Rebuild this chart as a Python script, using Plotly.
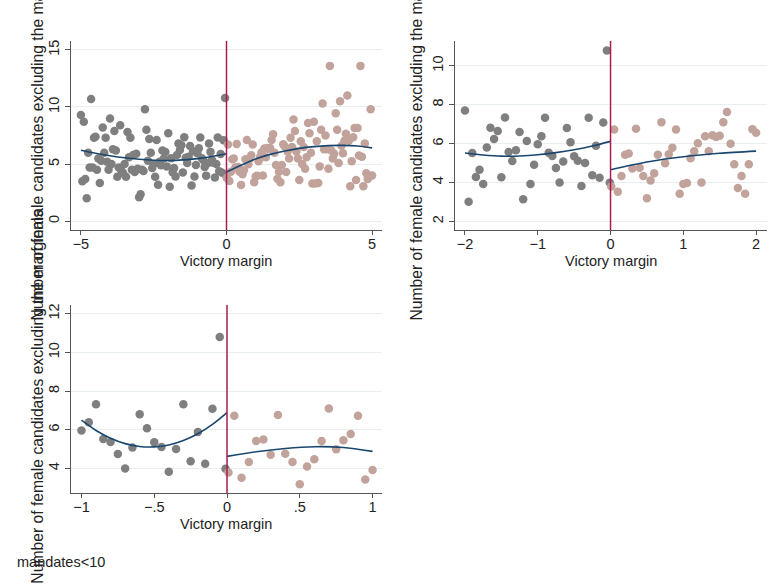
import plotly.graph_objects as go

# ---- binned observations (victory margin, mean number of female candidates) ----
margin_below = [
    -5.00, -4.95, -4.90, -4.85, -4.80, -4.75, -4.70, -4.65, -4.60, -4.55,
    -4.50, -4.45, -4.40, -4.35, -4.30, -4.25, -4.20, -4.15, -4.10, -4.05,
    -4.00, -3.95, -3.90, -3.85, -3.80, -3.75, -3.70, -3.65, -3.60, -3.55,
    -3.50, -3.45, -3.40, -3.35, -3.30, -3.25, -3.20, -3.15, -3.10, -3.05,
    -3.00, -2.95, -2.90, -2.85, -2.80, -2.75, -2.70, -2.65, -2.60, -2.55,
    -2.50, -2.45, -2.40, -2.35, -2.30, -2.25, -2.20, -2.15, -2.10, -2.05,
    -2.00, -1.95, -1.90, -1.85, -1.80, -1.75, -1.70, -1.65, -1.60, -1.55,
    -1.50, -1.45, -1.40, -1.35, -1.30, -1.25, -1.20, -1.15, -1.10, -1.05,
    -1.00, -0.95, -0.90, -0.85, -0.80, -0.75, -0.70, -0.65, -0.60, -0.55,
    -0.50, -0.45, -0.40, -0.35, -0.30, -0.25, -0.20, -0.15, -0.10, -0.05,
    -0.01,
]
women_below = [
    9.3, 3.5, 8.7, 3.7, 2.0, 6.0, 4.7, 10.7, 4.7, 7.3,
    7.4, 4.5, 5.5, 3.35, 5.3, 8.2, 6.0, 7.3, 5.2, 4.5,
    9.0, 5.0, 6.3, 7.9, 6.2, 3.9, 4.7, 8.4, 4.4, 4.2,
    5.0, 3.9, 7.8, 5.6, 7.3, 4.5, 5.8, 4.3, 5.9, 4.6,
    2.1, 2.35, 4.5, 4.4, 9.8, 8.0, 5.3, 7.2, 6.0, 4.65,
    5.0, 3.9, 7.1, 3.2, 5.2, 4.9, 6.2, 5.5, 6.05, 4.8,
    7.70, 3.01, 5.51, 4.28, 4.65, 3.92, 5.80, 6.81, 6.23, 6.64,
    4.26, 7.34, 5.56, 5.10, 5.65, 6.59, 3.13, 6.13, 3.92, 4.91,
    5.96, 6.38, 7.32, 5.52, 5.36, 4.74, 3.99, 5.08, 6.80, 6.07,
    5.35, 5.11, 3.82, 5.00, 7.32, 4.37, 5.88, 4.24, 7.08, 10.79,
    3.98,
]
margin_above = [
    0.01, 0.05, 0.10, 0.15, 0.20, 0.25, 0.30, 0.35, 0.40, 0.45,
    0.50, 0.55, 0.60, 0.65, 0.70, 0.75, 0.80, 0.85, 0.90, 0.95,
    1.00, 1.05, 1.10, 1.15, 1.20, 1.25, 1.30, 1.35, 1.40, 1.45,
    1.50, 1.55, 1.60, 1.65, 1.70, 1.75, 1.80, 1.85, 1.90, 1.95,
    2.00, 2.05, 2.10, 2.15, 2.20, 2.25, 2.30, 2.35, 2.40, 2.45,
    2.50, 2.55, 2.60, 2.65, 2.70, 2.75, 2.80, 2.85, 2.90, 2.95,
    3.00, 3.05, 3.10, 3.15, 3.20, 3.25, 3.30, 3.35, 3.40, 3.45,
    3.50, 3.55, 3.60, 3.65, 3.70, 3.75, 3.80, 3.85, 3.90, 3.95,
    4.00, 4.05, 4.10, 4.15, 4.20, 4.25, 4.30, 4.35, 4.40, 4.45,
    4.50, 4.55, 4.60, 4.65, 4.70, 4.75, 4.80, 4.85, 4.90, 4.95,
    5.00,
]
women_above = [
    3.79, 6.72, 3.52, 4.33, 5.42, 5.49, 4.71, 6.76, 4.75, 4.33,
    3.18, 4.10, 4.47, 5.42, 7.10, 4.99, 5.45, 5.78, 6.72, 3.42,
    3.92, 3.97, 5.24, 5.60, 6.01, 4.00, 6.37, 5.60, 6.42, 6.33,
    6.40, 7.10, 7.62, 5.99, 4.93, 3.71, 4.33, 3.42, 4.93, 6.74,
    6.55, 4.3, 6.1, 5.5, 7.3, 6.5, 8.9, 7.9, 6.1, 5.5,
    3.6, 7.0, 5.0, 6.5, 4.6, 5.6, 8.6, 7.7, 6.0, 3.3,
    8.7, 3.3, 7.0, 3.35, 4.8, 8.0, 10.3, 6.3, 7.5, 6.3,
    4.6, 13.6, 6.2, 5.5, 5.9, 9.45, 8.0, 5.1, 10.5, 6.6,
    5.95, 7.05, 7.65, 11.0, 7.05, 3.05, 5.25, 7.35, 8.15, 3.6,
    8.15, 5.75, 13.6, 5.65, 3.05, 6.8, 4.2, 3.7, 3.9, 9.8,
    4.0,
]

# ---- polynomial fits on each side of the threshold, per bandwidth ----
fit5_below_x = [-5.0, -4.5, -4.0, -3.5, -3.0, -2.5, -2.0, -1.5, -1.0, -0.5, 0.0]
fit5_below_y = [6.22, 5.95, 5.73, 5.55, 5.42, 5.34, 5.32, 5.37, 5.48, 5.66, 5.90]
fit5_above_x = [0.0, 0.5, 1.0, 1.5, 2.0, 2.5, 3.0, 3.5, 4.0, 4.5, 5.0]
fit5_above_y = [4.30, 4.90, 5.45, 5.85, 6.15, 6.38, 6.53, 6.62, 6.64, 6.58, 6.42]

fit2_below_x = [-2.0, -1.75, -1.5, -1.25, -1.0, -0.75, -0.5, -0.25, 0.0]
fit2_below_y = [5.51, 5.41, 5.35, 5.36, 5.42, 5.53, 5.68, 5.87, 6.11]
fit2_above_x = [0.0, 0.5, 1.0, 1.5, 2.0]
fit2_above_y = [4.65, 5.05, 5.32, 5.50, 5.61]

fit1_below_x = [-1.0, -0.9, -0.8, -0.7, -0.6, -0.5, -0.4, -0.3, -0.2, -0.1, 0.0]
fit1_below_y = [6.49, 5.96, 5.56, 5.28, 5.13, 5.11, 5.21, 5.44, 5.79, 6.27, 6.88]
fit1_above_x = [0.0, 0.2, 0.4, 0.6, 0.8, 1.0]
fit1_above_y = [4.62, 4.86, 5.03, 5.12, 5.08, 4.88]

y_title = "Number of female candidates excluding the marginals"
x_title = "Victory margin"
note_text = "mandates<10"

GREY = "#7f7f7f"
TAN = "#c2a39b"
NAVY = "#1a476f"
CUTOFF = "#a81c4f"
FONT = "Arial, Liberation Sans, sans-serif"
FS = 14.5
FS_YTITLE = 15.7

W, H = 779, 585

panels = [
    dict(ax="", bw=5.0, px=(71, 382), py=(39, 229), xr=(-5.34, 5.34), yr=(-0.79, 15.79),
         xt=[-5, 0, 5], xtt=["−5", "0", "5"], yt=[0, 5, 10, 15],
         fits=(fit5_below_x, fit5_below_y, fit5_above_x, fit5_above_y), tx=38, ty=132),
    dict(ax="2", bw=2.0, px=(455, 767), py=(39, 229), xr=(-2.137, 2.15), yr=(1.54, 11.28),
         xt=[-2, -1, 0, 1, 2], xtt=["−2", "−1", "0", "1", "2"], yt=[2, 4, 6, 8, 10],
         fits=(fit2_below_x, fit2_below_y, fit2_above_x, fit2_above_y), tx=417, ty=132),
    dict(ax="3", bw=1.0, px=(71, 382), py=(304, 493), xr=(-1.072, 1.065), yr=(2.71, 12.45),
         xt=[-1, -0.5, 0, 0.5, 1], xtt=["−1", "−.5", "0", ".5", "1"], yt=[4, 6, 8, 10, 12],
         fits=(fit1_below_x, fit1_below_y, fit1_above_x, fit1_above_y), tx=38, ty=396),
]

fig = go.Figure()
annotations = []
shapes = []

for p in panels:
    xa = "x" + p["ax"]
    ya = "y" + p["ax"]
    bw = p["bw"] + 1e-9
    bx = [x for x in margin_below if abs(x) <= bw]
    by = [y for x, y in zip(margin_below, women_below) if abs(x) <= bw]
    axx = [x for x in margin_above if abs(x) <= bw]
    ayy = [y for x, y in zip(margin_above, women_above) if abs(x) <= bw]

    fig.add_trace(go.Scatter(x=bx, y=by, mode="markers", xaxis=xa, yaxis=ya,
                             marker=dict(color=GREY, size=8.5, line=dict(width=0)),
                             showlegend=False, hoverinfo="skip"))
    fig.add_trace(go.Scatter(x=axx, y=ayy, mode="markers", xaxis=xa, yaxis=ya,
                             marker=dict(color=TAN, size=8.5, line=dict(width=0)),
                             showlegend=False, hoverinfo="skip"))
    fbx, fby, fax, fay = p["fits"]
    for fx, fy in ((fbx, fby), (fax, fay)):
        fig.add_trace(go.Scatter(x=fx, y=fy, mode="lines", xaxis=xa, yaxis=ya,
                                 line=dict(color=NAVY, width=1.6, shape="spline", smoothing=0.8),
                                 showlegend=False, hoverinfo="skip"))

    dom_x = [p["px"][0] / W, p["px"][1] / W]
    dom_y = [1 - p["py"][1] / H, 1 - p["py"][0] / H]
    axis_common = dict(showline=True, linecolor="#555555", linewidth=1,
                       ticks="outside", tickcolor="#555555", tickwidth=1,
                       zeroline=False, tickfont=dict(family=FONT, size=FS, color="#222222"))
    fig.layout["xaxis" + p["ax"]] = dict(
        domain=dom_x, range=list(p["xr"]), anchor=ya, showgrid=False, ticklen=4,
        ticklabelstandoff=-4, tickvals=p["xt"], ticktext=p["xtt"], **axis_common)
    fig.layout["yaxis" + p["ax"]] = dict(
        domain=dom_y, range=list(p["yr"]), anchor=xa, showgrid=True, ticklen=5,
        gridcolor="#e9eef1", gridwidth=1, tickvals=p["yt"],
        ticktext=[str(v) for v in p["yt"]], tickangle=-90, **axis_common)

    # cutoff at zero margin
    shapes.append(dict(type="line", xref=xa, yref=ya + " domain", x0=0, x1=0, y0=0, y1=1,
                       line=dict(color=CUTOFF, width=1.5), layer="above"))

    # axis titles
    cx = (p["px"][0] + p["px"][1]) / 2
    annotations.append(dict(text=x_title, xref="paper", yref="paper",
                            x=cx / W, y=1 - (p["py"][1] + 31) / H,
                            xanchor="center", yanchor="middle", showarrow=False,
                            font=dict(family=FONT, size=FS, color="#222222")))
    annotations.append(dict(text=y_title, xref="paper", yref="paper",
                            x=p["tx"] / W, y=1 - p["ty"] / H, textangle=-90,
                            xanchor="center", yanchor="middle", showarrow=False,
                            font=dict(family=FONT, size=FS_YTITLE, color="#222222")))

annotations.append(dict(text=note_text, xref="paper", yref="paper",
                        x=15 / W, y=1 - 562 / H, xanchor="left", yanchor="middle",
                        showarrow=False, font=dict(family=FONT, size=FS, color="#222222")))

fig.update_layout(width=W, height=H, margin=dict(l=0, r=0, t=0, b=0),
                  paper_bgcolor="white", plot_bgcolor="white",
                  annotations=annotations, shapes=shapes, showlegend=False)

fig.write_html("out.html")
